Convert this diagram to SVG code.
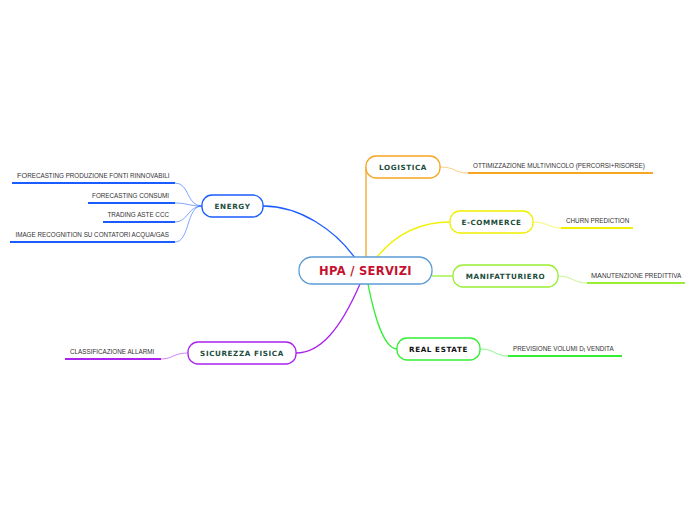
<svg xmlns="http://www.w3.org/2000/svg" width="696" height="520" viewBox="0 0 696 520">
<style>
.node rect{fill:#fff;stroke-width:1.3}
.nt{font-family:"DejaVu Sans",Verdana,sans-serif;font-weight:bold;font-size:7.2px;letter-spacing:0.6px;fill:#1b4d3e;text-anchor:middle}
.lt{font-family:"Liberation Sans",Arial,sans-serif;font-size:6.3px;fill:#333}
.c{fill:none;stroke-width:1.3}
.l{fill:none;stroke-width:1;stroke-opacity:0.55}
.u{fill:none;stroke-width:2}
</style>
<rect width="696" height="520" fill="#fff"/>
<g id="connectors">
<path class="c" d="M355,258 C335,230 300,206 263,206" stroke="#1a5cff"/>
<path class="c" d="M366,257 L366,167" stroke="#f5a623"/>
<path class="c" d="M377,257 C395,235 420,222 450,222" stroke="#f0f000"/>
<path class="c" d="M432,276 L453,276" stroke="#99ee33"/>
<path class="c" d="M368,284 C375,320 385,349 397,349" stroke="#33ee33"/>
<path class="c" d="M360,284 C340,330 320,353 296,353" stroke="#aa22ee"/>
<path class="l" d="M440,167 C455,167 455,173 468,173" stroke="#f5a623"/>
<path class="l" d="M533,222 C548,222 548,228 561,228" stroke="#f0f000"/>
<path class="l" d="M558,276 C573,276 573,283 587,283" stroke="#99ee33"/>
<path class="l" d="M480,349 C495,349 495,356 508,356" stroke="#33ee33"/>
<path class="l" d="M188,353 C173,353 173,359 161,359" stroke="#aa22ee"/>
<path class="l" d="M202,206 C186,206 190,183 175,183" stroke="#1a5cff"/>
<path class="l" d="M202,206 C188,206 188,203 175,203" stroke="#1a5cff"/>
<path class="l" d="M202,206 C188,206 188,222 175,222" stroke="#1a5cff"/>
<path class="l" d="M202,206 C186,206 190,242 175,242" stroke="#1a5cff"/>
</g>
<g id="center" class="node"><rect x="299" y="257" width="133" height="27" rx="13" stroke="#5b9bd5"/><text x="365.5" y="275" font-family="DejaVu Sans,Verdana,sans-serif" font-weight="bold" font-size="11.5" letter-spacing="0.3" fill="#c41230" text-anchor="middle">HPA / SERVIZI</text></g>
<g id="logistica" class="node"><rect x="366" y="156" width="74" height="22" rx="10" stroke="#f5a623"/><text class="nt" x="403" y="170">LOGISTICA</text></g>
<g id="logistica-leaf"><text class="lt" x="473" y="168">OTTIMIZZAZIONE MULTIVINCOLO (PERCORSI+RISORSE)</text><path class="u" d="M468,173 H653" stroke="#f5a623"/></g>
<g id="ecommerce" class="node"><rect x="450" y="211" width="83" height="22" rx="10" stroke="#f0f000"/><text class="nt" x="491.5" y="225">E-COMMERCE</text></g>
<g id="ecommerce-leaf"><text class="lt" x="566" y="223">CHURN PREDICTION</text><path class="u" d="M561,228 H633" stroke="#f0f000"/></g>
<g id="manifatturiero" class="node"><rect x="453" y="265" width="105" height="22" rx="10" stroke="#99ee33"/><text class="nt" x="505.5" y="279">MANIFATTURIERO</text></g>
<g id="manifatturiero-leaf"><text class="lt" x="591" y="278"><tspan font-size="7.3">MA</tspan>NUTENZIONE PREDITTIVA</text><path class="u" d="M587,283 H685" stroke="#99ee33"/></g>
<g id="realestate" class="node"><rect x="397" y="338" width="83" height="22" rx="10" stroke="#33ee33"/><text class="nt" x="438.5" y="352" style="fill:#111">REAL ESTATE</text></g>
<g id="realestate-leaf"><text class="lt" x="513" y="351">PREVISIONE VOLUMI D<tspan font-size="5" dy="1">I</tspan><tspan dy="-1"> VENDITA</tspan></text><path class="u" d="M508,356 H622" stroke="#33ee33"/></g>
<g id="sicurezza" class="node"><rect x="188" y="342" width="108" height="22" rx="10" stroke="#aa22ee"/><text class="nt" x="242" y="356">SICUREZZA FISICA</text></g>
<g id="sicurezza-leaf"><text class="lt" x="70" y="354">CLASSIFICAZIONE ALLARMI</text><path class="u" d="M65,359 H161" stroke="#aa22ee"/></g>
<g id="energy" class="node"><rect x="202" y="195" width="61" height="22" rx="10" stroke="#1a5cff"/><text class="nt" x="232.5" y="209">ENERGY</text></g>
<g id="energy-leaf1"><text class="lt" x="17" y="178"><tspan font-size="7.3">FO</tspan>RECASTING PRODUZIONE FONTI RINNOVABILI</text><path class="u" d="M12,183 H175" stroke="#1a5cff"/></g>
<g id="energy-leaf2"><text class="lt" x="169" y="198" text-anchor="end">FORECASTING CONSUMI</text><path class="u" d="M88,203 H175" stroke="#1a5cff"/></g>
<g id="energy-leaf3"><text class="lt" x="169" y="217" text-anchor="end">TRADING ASTE CCC</text><path class="u" d="M103,222 H175" stroke="#1a5cff"/></g>
<g id="energy-leaf4"><text class="lt" x="169" y="237" text-anchor="end">IMAGE RECOGNITION SU CONTATORI ACQUA/GAS</text><path class="u" d="M10,242 H175" stroke="#1a5cff"/></g>
</svg>
